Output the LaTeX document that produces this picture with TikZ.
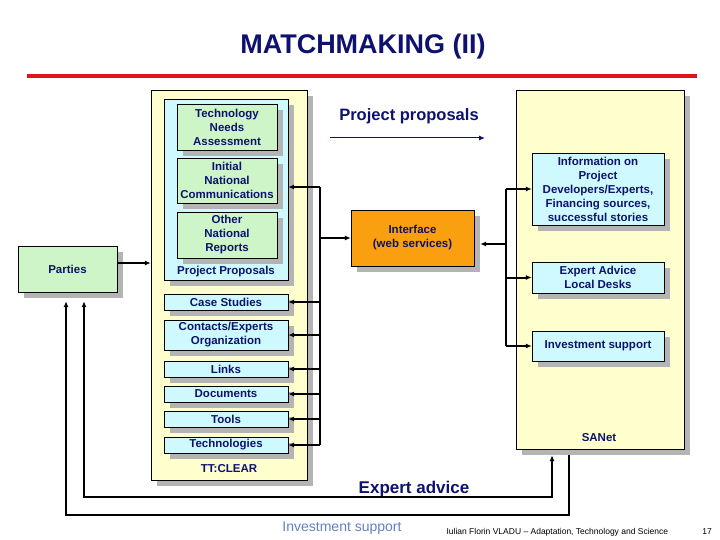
\documentclass[tikz,border=0pt]{standalone}
\usepackage{fontspec}
\setmainfont{Liberation Sans}
\usetikzlibrary{arrows.meta,shadows}

\definecolor{navy}{RGB}{14,18,110}
\definecolor{paleyellow}{RGB}{255,255,206}
\definecolor{palecyan}{RGB}{206,250,255}
\definecolor{palegreen}{RGB}{206,245,200}
\definecolor{orangebox}{RGB}{250,160,16}
\definecolor{shadowgray}{RGB}{180,180,180}
\definecolor{rulered}{RGB}{226,20,26}
\definecolor{footblue}{RGB}{100,128,196}

\newcommand{\boxfont}{\fontsize{11.5}{14}\selectfont\bfseries}

\begin{document}
\begin{tikzpicture}[
    % one unit is one pixel of the 720x540 slide, y runs downwards
    x=1pt,
    y=-1pt,
    >={Latex[length=6pt,width=5pt]}
]
    % --- Style Definitions ---
    \tikzstyle{boxshadow} = [general shadow={fill=shadowgray, shadow xshift=6pt, shadow yshift=-6pt}]
    \tikzstyle{panel} = [draw, fill=paleyellow, inner sep=0pt, boxshadow]
    \tikzstyle{item} = [draw, inner sep=0pt, align=center, text=navy, font=\boxfont, boxshadow]
    \tikzstyle{greenbox} = [item, fill=palegreen]
    \tikzstyle{cyanbox} = [item, fill=palecyan]
    \tikzstyle{caption} = [text=navy, font=\boxfont]
    \tikzstyle{link} = [draw, line width=2pt]
    \tikzstyle{headline} = [text=navy, font=\fontsize{27}{30}\selectfont\bfseries]

    % --- Page ---
    \fill[white] (0,0) rectangle (720,540);
    \useasboundingbox (0,0) rectangle (720,540);

    % --- Title ---
    \node[headline] (title) at (363,47) {MATCHMAKING (II)};
    \draw[rulered, line width=4pt] (27,76) -- (697,76);

    % --- TT:CLEAR panel ---
    \node[panel, minimum width=156pt, minimum height=390pt] (ttclear) at (229,285) {};
    \node[panel, fill=palecyan, minimum width=124pt, minimum height=181pt] (proposals) at (226,189.5) {};
    \node[greenbox, minimum width=100pt, minimum height=46pt] (tna) at (227,127) {Technology\\Needs\\Assessment};
    \node[greenbox, minimum width=100pt, minimum height=45pt] (inc) at (227,180.5) {Initial\\National\\Communications};
    \node[greenbox, minimum width=100pt, minimum height=46pt] (onr) at (227,235) {Other\\National\\Reports};
    \node[caption] (proposalstext) at (226,272) {Project Proposals};

    \node[cyanbox, minimum width=124pt, minimum height=16pt] (cases) at (226,302) {Case Studies};
    \node[cyanbox, minimum width=124pt, minimum height=30pt] (contacts) at (226,335) {Contacts/Experts\\Organization};
    \node[cyanbox, minimum width=124pt, minimum height=16pt] (links) at (226,369) {Links};
    \node[cyanbox, minimum width=124pt, minimum height=16pt] (docs) at (226,394) {Documents};
    \node[cyanbox, minimum width=124pt, minimum height=16pt] (tools) at (226,419) {Tools};
    \node[cyanbox, minimum width=124pt, minimum height=16pt] (techs) at (226,445) {Technologies};
    \node[caption] (ttcleartext) at (229,469) {TT:CLEAR};

    % --- Parties ---
    \node[greenbox, minimum width=99pt, minimum height=46pt] (parties) at (67.5,269) {Parties};

    % --- Interface ---
    \node[item, fill=orangebox, minimum width=123pt, minimum height=56pt] (interface) at (412.5,238) {Interface\\(web services)};

    % --- SANet panel ---
    \node[panel, minimum width=168pt, minimum height=359pt] (sanet) at (600,269.5) {};
    \node[cyanbox, minimum width=132pt, minimum height=72pt] (info) at (598,189) {Information on\\Project\\Developers/Experts,\\Financing sources,\\successful stories};
    \node[cyanbox, minimum width=132pt, minimum height=31pt] (expert) at (598,277.5) {Expert Advice\\Local Desks};
    \node[cyanbox, minimum width=132pt, minimum height=30pt] (invest) at (598,346) {Investment support};
    \node[caption] (sanettext) at (599,438) {SANet};

    % --- Flow labels ---
    \node[headline, font=\fontsize{16.5}{20}\selectfont\bfseries] (pplabel) at (409,116) {Project proposals};
    \coordinate (ppstart) at (330,138);
    \coordinate (ppend) at (485,138);
    \draw[navy, line width=1pt, ->] (ppstart) -- (ppend);
    \node[headline, font=\fontsize{17}{20}\selectfont\bfseries] (ealabel) at (414,489) {Expert advice};

    % --- Left bus ---
    \coordinate (ltop) at (320,187);
    \draw[link] (ltop) -- (ltop |- techs.east);
    \draw[link, ->] (ltop) -- (ltop -| proposals.east);
    \foreach \n in {cases, contacts, links, docs, tools, techs}
        \draw[link, ->] (ltop |- \n.east) -- (\n.east);
    \draw[link, ->] (ltop |- interface.west) -- (interface.west);
    \draw[link, ->] ([yshift=6pt]parties.east) -- ([yshift=6pt]parties.east -| ttclear.west);

    % --- Right bus ---
    \coordinate (rtop) at (506,189);
    \draw[link] (rtop) -- (rtop |- invest.west);
    \foreach \n in {info, expert, invest}
        \draw[link, ->] (rtop |- \n.west) -- (\n.west);
    \draw[link, ->] (rtop |- 0,244) -- ([shift={(6pt,-6pt)}]interface.east);

    % --- Loops back to Parties ---
    \coordinate (innerloop) at (300,497);
    \coordinate (outerloop) at (300,515);
    \draw[link, <->] ([shift={(16.5pt,-9pt)}]parties.south) |- (innerloop) -| ([shift={(-48pt,-6pt)}]sanet.south);
    \draw[link, ->] ([shift={(-31pt,-6pt)}]sanet.south) |- (outerloop) -| ([shift={(-1.5pt,-9pt)}]parties.south);

    % --- Footer ---
    \node[text=footblue, font=\fontsize{14}{16}\selectfont] (footer) at (342,528) {Investment support};
    \node[anchor=west, font=\fontsize{8.5}{10}\selectfont] (credit) at (443,532) {Iulian Florin VLADU – Adaptation, Technology and Science};
    \node[font=\fontsize{8.5}{10}\selectfont] (pagenum) at (707,532) {17};
\end{tikzpicture}
\end{document}
